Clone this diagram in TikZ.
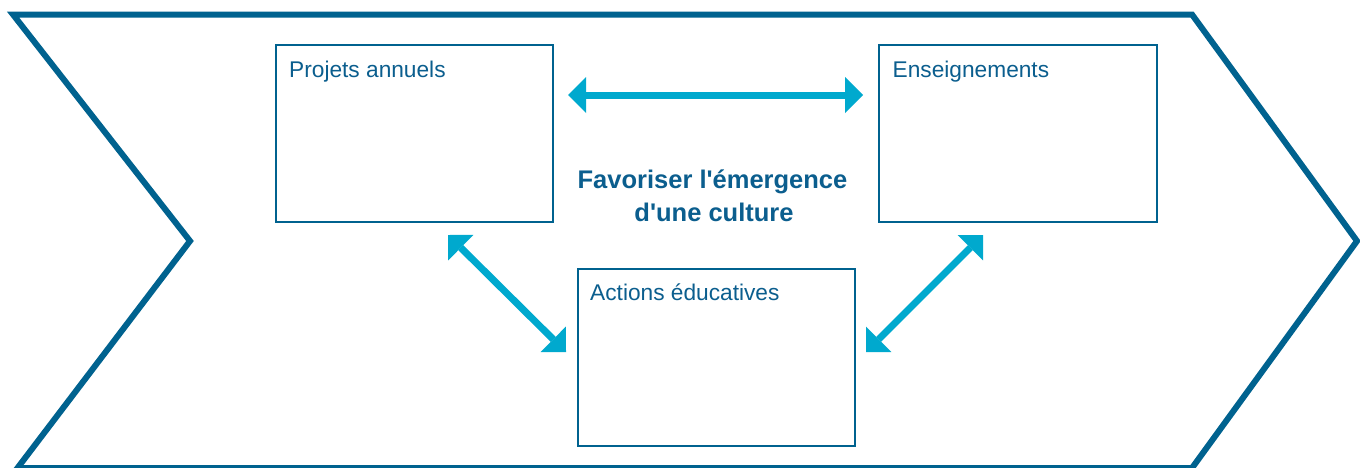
\documentclass[tikz,border=0pt]{standalone}
\usepackage{fontspec}
\setmainfont{Liberation Sans}
\usetikzlibrary{arrows.meta}
\definecolor{dblue}{HTML}{00628F}
\definecolor{tblue}{HTML}{0B5E8E}
\definecolor{lblue}{HTML}{00A9CE}
\begin{document}
\begin{tikzpicture}[x=1pt,y=-1pt,
  frame/.style={draw=dblue,line width=6pt,line join=miter},
  box/.style={draw=dblue,line width=2.4pt,minimum height=177pt,anchor=north west,inner sep=0pt},
  lbl/.style={anchor=base west,text=tblue,font=\fontsize{22.7}{26}\selectfont,inner sep=0pt},
  ttl/.style={anchor=base,text=tblue,font=\bfseries\fontsize{25.5}{33}\selectfont,inner sep=0pt},
  link/.style={draw=lblue,line width=7pt,{Triangle[length=18pt,width=36pt,line width=0pt]}-{Triangle[length=18pt,width=36pt,line width=0pt]}}]
\useasboundingbox (0,0) rectangle (1360,467);
\clip (0,0) rectangle (1360,467);
\fill[white] (0,0) rectangle (1360,467);
\draw[frame] (13,14.5) -- (1192,14.5) -- (1357,241) -- (1192,468) -- (17.5,468) -- (190,241) -- cycle;
\node[box,minimum width=277pt] (b1) at (275,44) {};
\node[box,minimum width=278pt] (b2) at (878,44) {};
\node[box,minimum width=277pt] (b3) at (577,268) {};
\node[lbl] (l1) at ([shift={(14,33.7)}]b1.north west) {Projets annuels};
\node[lbl] (l2) at ([shift={(14.5,33.7)}]b2.north west) {Enseignements};
\node[lbl] (l3) at ([shift={(13,32)}]b3.north west) {Actions éducatives};
\node[ttl] (t1) at (712.5,188) {Favoriser l\textquotesingle émergence};
\node[ttl] (t2) at (714,221.5) {d\textquotesingle une culture};
\coordinate (h1) at (568,95);
\coordinate (h2) at (863,95);
\coordinate (d1) at (448,235);
\coordinate (d2) at (566,352);
\coordinate (e1) at (983,235);
\coordinate (e2) at (866,352);
\draw[link] (h1) -- (h2);
\draw[link] (d1) -- (d2);
\draw[link] (e1) -- (e2);
\end{tikzpicture}
\end{document}
